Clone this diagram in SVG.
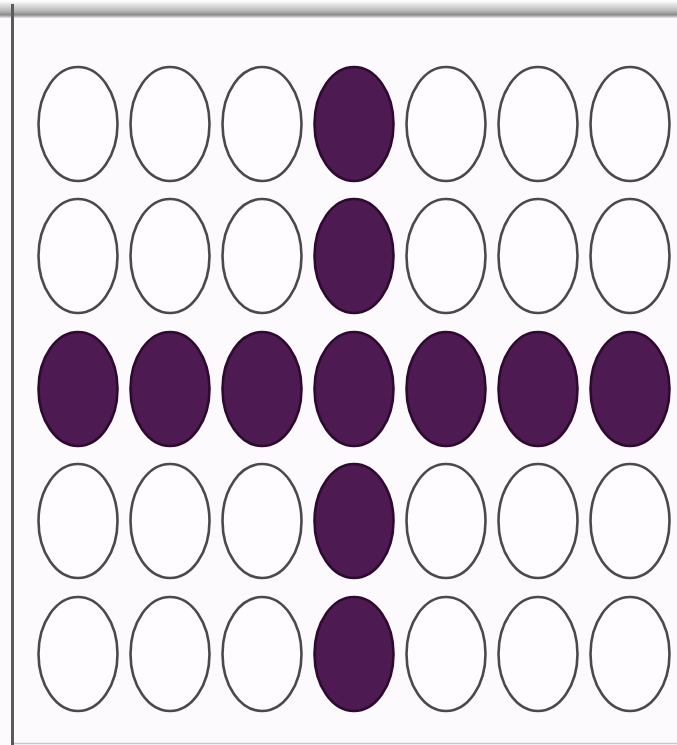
<svg xmlns="http://www.w3.org/2000/svg" width="677" height="745" viewBox="0 0 677 745">
<defs>
<linearGradient id="topband" x1="0" y1="0" x2="0" y2="1">
<stop offset="0" stop-color="#f4f4f4"/>
<stop offset="0.55" stop-color="#b8b8b8"/>
<stop offset="0.8" stop-color="#8a8a8a"/>
<stop offset="1" stop-color="#e8e8e8"/>
</linearGradient>
<style>
.o{fill:#fefcfe;stroke:#4a4a4a;stroke-width:2.6}
.f{fill:#4d1a52;stroke:#2e0a30;stroke-width:2.6}
</style>
</defs>
<rect width="677" height="745" fill="#fdfafd"/>
<rect x="0" y="2" width="677" height="16" fill="url(#topband)"/>
<line x1="12.5" y1="4" x2="12.5" y2="745" stroke="#5a5a5a" stroke-width="3"/>
<line x1="14" y1="743.5" x2="677" y2="743.5" stroke="#c8c8c8" stroke-width="1.5"/>
<g id="grid">
<g id="r1">
<ellipse class="o" cx="78" cy="124" rx="39.5" ry="57"/>
<ellipse class="o" cx="170" cy="124" rx="39.5" ry="57"/>
<ellipse class="o" cx="262" cy="124" rx="39.5" ry="57"/>
<ellipse class="f" cx="354" cy="124" rx="39.5" ry="57"/>
<ellipse class="o" cx="446" cy="124" rx="39.5" ry="57"/>
<ellipse class="o" cx="538" cy="124" rx="39.5" ry="57"/>
<ellipse class="o" cx="630" cy="124" rx="39.5" ry="57"/>
</g>
<g id="r2">
<ellipse class="o" cx="78" cy="256" rx="39.5" ry="57"/>
<ellipse class="o" cx="170" cy="256" rx="39.5" ry="57"/>
<ellipse class="o" cx="262" cy="256" rx="39.5" ry="57"/>
<ellipse class="f" cx="354" cy="256" rx="39.5" ry="57"/>
<ellipse class="o" cx="446" cy="256" rx="39.5" ry="57"/>
<ellipse class="o" cx="538" cy="256" rx="39.5" ry="57"/>
<ellipse class="o" cx="630" cy="256" rx="39.5" ry="57"/>
</g>
<g id="r3">
<ellipse class="f" cx="78" cy="389" rx="39.5" ry="57"/>
<ellipse class="f" cx="170" cy="389" rx="39.5" ry="57"/>
<ellipse class="f" cx="262" cy="389" rx="39.5" ry="57"/>
<ellipse class="f" cx="354" cy="389" rx="39.5" ry="57"/>
<ellipse class="f" cx="446" cy="389" rx="39.5" ry="57"/>
<ellipse class="f" cx="538" cy="389" rx="39.5" ry="57"/>
<ellipse class="f" cx="630" cy="389" rx="39.5" ry="57"/>
</g>
<g id="r4">
<ellipse class="o" cx="78" cy="521" rx="39.5" ry="57"/>
<ellipse class="o" cx="170" cy="521" rx="39.5" ry="57"/>
<ellipse class="o" cx="262" cy="521" rx="39.5" ry="57"/>
<ellipse class="f" cx="354" cy="521" rx="39.5" ry="57"/>
<ellipse class="o" cx="446" cy="521" rx="39.5" ry="57"/>
<ellipse class="o" cx="538" cy="521" rx="39.5" ry="57"/>
<ellipse class="o" cx="630" cy="521" rx="39.5" ry="57"/>
</g>
<g id="r5">
<ellipse class="o" cx="78" cy="654" rx="39.5" ry="57"/>
<ellipse class="o" cx="170" cy="654" rx="39.5" ry="57"/>
<ellipse class="o" cx="262" cy="654" rx="39.5" ry="57"/>
<ellipse class="f" cx="354" cy="654" rx="39.5" ry="57"/>
<ellipse class="o" cx="446" cy="654" rx="39.5" ry="57"/>
<ellipse class="o" cx="538" cy="654" rx="39.5" ry="57"/>
<ellipse class="o" cx="630" cy="654" rx="39.5" ry="57"/>
</g>
</g>
</svg>
